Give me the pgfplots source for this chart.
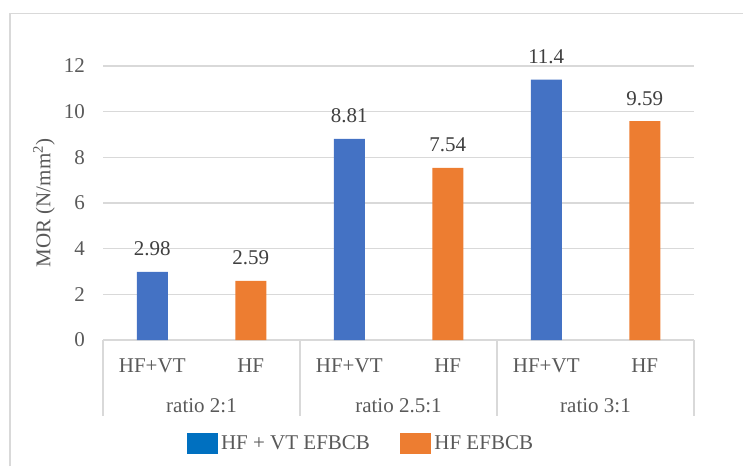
\documentclass[border=0pt]{standalone}
\usepackage{pgfplots}
\pgfplotsset{compat=1.18}
\usepackage{fontspec}
\setmainfont{Liberation Serif}

\definecolor{barblue}{HTML}{4472C4}
\definecolor{barorange}{HTML}{ED7D31}
\definecolor{legblue}{HTML}{0070C0}
\definecolor{gridgray}{HTML}{D9D9D9}
\definecolor{txtgray}{HTML}{595959}
\definecolor{lblgray}{HTML}{404040}

\begin{document}
\begin{tikzpicture}
\useasboundingbox (0pt,0pt) rectangle (743pt,466pt);
\draw[gridgray, line width=1.2pt] (10pt,0pt) -- (10pt,452.5pt) -- (743pt,452.5pt);

\begin{axis}[
    at={(103pt,126pt)}, anchor=south west,
    scale only axis,
    width=591pt, height=274pt,
    xmin=-0.5, xmax=5.5,
    ymin=0, ymax=12,
    ytick={0,2,...,12},
    xtick={0,...,5},
    xticklabels={HF+VT,HF,HF+VT,HF,HF+VT,HF},
    major tick length=0pt,
    axis line style={draw=none},
    ymajorgrids,
    grid style={gridgray, line width=1.2pt},
    clip=false,
    font=\fontsize{21}{25}\selectfont,
    tick label style={txtgray},
    /pgf/number format/assume math mode=true,
    yticklabel style={inner xsep=0pt, xshift=-18pt, anchor=east},
    xticklabel style={anchor=base, yshift=-32pt},
    ylabel={MOR (N/mm\textsuperscript{2})},
    ylabel style={txtgray, at={(axis description cs:-0.0998,0.5)}, anchor=center},
    legend columns=2,
    legend style={at={(axis description cs:0.438,-0.376)}, anchor=center,
        draw=none, fill=none, text=txtgray,
        /tikz/every even column/.append style={column sep=26pt},
        nodes={inner xsep=4pt}},
    nodes near coords,
    every node near coord/.append style={lblgray, anchor=base, yshift=16pt},
]
\addplot[ybar, bar width=31pt, bar shift=0pt, fill=barblue, draw=none, forget plot]
    coordinates {(0,2.98) (2,8.81) (4,11.4)};
\addplot[ybar, bar width=31pt, bar shift=0pt, fill=barorange, draw=none, forget plot]
    coordinates {(1,2.59) (3,7.54) (5,9.59)};

\addlegendimage{legend image code/.code={\fill[legblue] (0pt,-10pt) rectangle (30pt,10pt);}}
\addlegendentry{HF + VT EFBCB}
\addlegendimage{legend image code/.code={\fill[barorange] (0pt,-10pt) rectangle (30pt,10pt);}}
\addlegendentry{HF EFBCB}

% category box below the axis
\draw[gridgray, line width=1.2pt] (axis cs:-0.5,0) -- ++(0pt,-76pt);
\draw[gridgray, line width=1.2pt] (axis cs:1.5,0) -- ++(0pt,-76pt);
\draw[gridgray, line width=1.2pt] (axis cs:3.5,0) -- ++(0pt,-76pt);
\draw[gridgray, line width=1.2pt] (axis cs:5.5,0) -- ++(0pt,-76pt);
\node[txtgray, anchor=base] at ([yshift=-72pt]axis cs:0.5,0) {ratio 2:1};
\node[txtgray, anchor=base] at ([yshift=-72pt]axis cs:2.5,0) {ratio 2.5:1};
\node[txtgray, anchor=base] at ([yshift=-72pt]axis cs:4.5,0) {ratio 3:1};
\end{axis}
\end{tikzpicture}
\end{document}
